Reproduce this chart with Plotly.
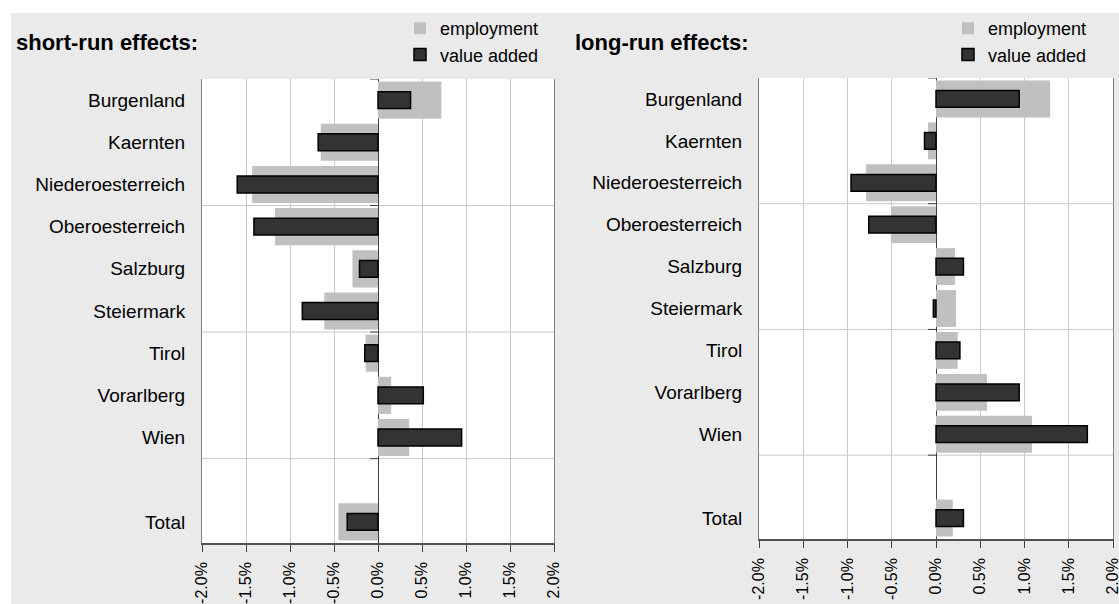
import plotly.graph_objects as go

W, H = 1119, 604

categories = ["Burgenland", "Kaernten", "Niederoesterreich", "Oberoesterreich", "Salzburg",
              "Steiermark", "Tirol", "Vorarlberg", "Wien", "", "Total"]
short_employment = [0.72, -0.65, -1.43, -1.17, -0.29, -0.61, -0.14, 0.15, 0.355, None, -0.45]
short_value_added = [0.37, -0.68, -1.60, -1.41, -0.21, -0.86, -0.15, 0.515, 0.95, None, -0.35]
long_employment = [1.29, -0.09, -0.79, -0.505, 0.215, 0.226, 0.245, 0.576, 1.085, None, 0.19]
long_value_added = [0.94, -0.13, -0.96, -0.76, 0.31, -0.03, 0.27, 0.94, 1.71, None, 0.31]
x_tick_values = [-2.0, -1.5, -1.0, -0.5, 0.0, 0.5, 1.0, 1.5, 2.0]
x_tick_labels = ["-2.0%", "-1.5%", "-1.0%", "-0.5%", "0.0%", "0.5%", "1.0%", "1.5%", "2.0%"]
panel_titles = ["short-run effects:", "long-run effects:"]
grid_boundaries = [2.5, 5.5, 8.5]

FONT = "Liberation Sans, Arial, sans-serif"
EMP_COLOR = "#c0c0c0"
VA_COLOR = "#333333"
BG_GREY = "#eaeaea"

ypos = list(range(len(categories)))

fig = go.Figure()

panels = [
    (short_employment, short_value_added, "x", "y", "legend"),
    (long_employment, long_value_added, "x2", "y2", "legend2"),
]
for emp, va, xa, ya, lg in panels:
    fig.add_trace(go.Bar(
        y=ypos, x=emp, orientation="h", name="employment",
        marker=dict(color=EMP_COLOR, line=dict(width=0)),
        width=0.88, xaxis=xa, yaxis=ya, legend=lg, legendgroup="emp" + lg,
    ))
    fig.add_trace(go.Bar(
        y=ypos, x=va, orientation="h", name="value added",
        marker=dict(color=VA_COLOR, line=dict(color="#000000", width=1.5)),
        width=0.4, xaxis=xa, yaxis=ya, legend=lg, legendgroup="va" + lg,
    ))

def px_x(p):
    return p / W

def px_y(p):
    return 1 - p / H

xdomains = [[px_x(202), px_x(554)], [px_x(759), px_x(1113)]]
ydomains = [[px_y(543), px_y(79)], [px_y(539), px_y(78)]]

axis_common_x = dict(
    range=[-2, 2], tickvals=x_tick_values, ticktext=x_tick_labels, tickangle=-90,
    ticks="outside", ticklen=7, tickcolor="#404040", tickwidth=1,
    showgrid=True, gridcolor="#c8c8c8", gridwidth=1,
    zeroline=True, zerolinecolor="#404040", zerolinewidth=1,
    showline=True, linecolor="#505050", linewidth=1.5, mirror=False,
    tickfont=dict(family=FONT, size=16, color="#000000"),
    fixedrange=True, ticklabelstandoff=4, automargin=False,
    ticklabeloverflow="allow",
)
axis_common_y = dict(
    range=[len(categories) - 0.5, -0.5], tickvals=ypos, ticktext=categories,
    ticks="", showgrid=False, zeroline=False,
    showline=True, linecolor="#808080", linewidth=1, mirror=True,
    tickfont=dict(family=FONT, size=19, color="#000000"),
    ticklabelstandoff=12, fixedrange=True, automargin=False,
)

fig.update_layout(
    xaxis=dict(domain=xdomains[0], anchor="y", **axis_common_x),
    yaxis=dict(domain=ydomains[0], anchor="x", **axis_common_y),
    xaxis2=dict(domain=xdomains[1], anchor="y2", **axis_common_x),
    yaxis2=dict(domain=ydomains[1], anchor="x2", **axis_common_y),
)

shapes = []
# white strips at the top and left edge (outside the grey chart area)
shapes.append(dict(type="rect", xref="paper", yref="paper", x0=0, x1=1, y0=px_y(13), y1=1,
                   fillcolor="#ffffff", line=dict(width=0), layer="below"))
shapes.append(dict(type="rect", xref="paper", yref="paper", x0=0, x1=px_x(11), y0=0, y1=1,
                   fillcolor="#ffffff", line=dict(width=0), layer="below"))
for xa, ya in [("x", "y"), ("x2", "y2")]:
    for b in grid_boundaries:
        shapes.append(dict(type="line", xref=f"{xa} domain", yref=ya, x0=0, x1=1, y0=b, y1=b,
                           line=dict(color="#c8c8c8", width=1), layer="below"))
    for b in [-0.5] + grid_boundaries:
        shapes.append(dict(type="line", xref=xa, yref=ya, x0=-0.09, x1=0, y0=b, y1=b,
                           line=dict(color="#404040", width=1), layer="above"))
fig.update_layout(shapes=shapes)

annotations = []
for title, xpx in zip(panel_titles, [14, 573]):
    annotations.append(dict(text=f"<b>{title}</b>", xref="paper", yref="paper",
                            x=px_x(xpx), y=px_y(42), xanchor="left", yanchor="middle",
                            showarrow=False, font=dict(family=FONT, size=22, color="#000000")))
fig.update_layout(annotations=annotations)

legend_common = dict(
    bgcolor="rgba(0,0,0,0)", borderwidth=0, orientation="v",
    font=dict(family=FONT, size=18, color="#000000"),
    xanchor="left", yanchor="top", tracegroupgap=0, itemwidth=30,
)
fig.update_layout(
    legend=dict(x=px_x(400), y=px_y(10), **legend_common),
    legend2=dict(x=px_x(948), y=px_y(10), **legend_common),
    barmode="overlay",
    width=W, height=H, autosize=False,
    margin=dict(l=0, r=0, t=0, b=0, pad=0, autoexpand=False),
    paper_bgcolor=BG_GREY, plot_bgcolor="#ffffff",
    font=dict(family=FONT, color="#000000"),
)

fig.write_html(
    "out.html",
    config={"displayModeBar": False},
    post_script="document.body.style.margin='0px';document.body.style.overflow='hidden';",
)
